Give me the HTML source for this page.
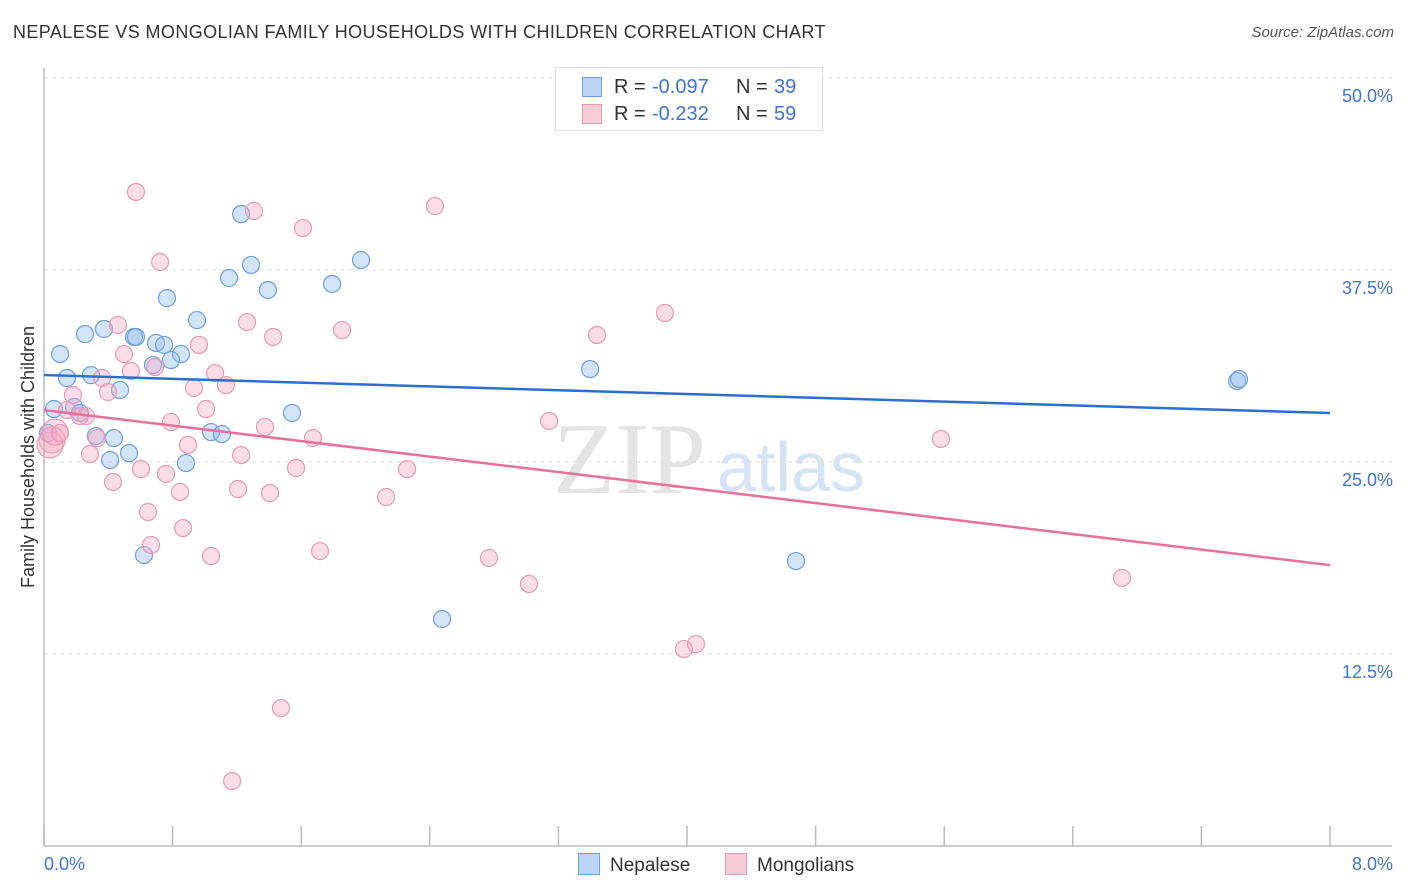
<!DOCTYPE html>
<html><head><meta charset="utf-8"><style>
body{margin:0;background:#fff;font-family:"Liberation Sans",sans-serif;}
#wrap{position:relative;width:1406px;height:892px;overflow:hidden;}
.t{position:absolute;white-space:nowrap;}
</style></head><body>
<div id="wrap">
<div class="t" style="left:13px;top:22px;font-size:18px;color:#333;letter-spacing:0.4px;">NEPALESE VS MONGOLIAN FAMILY HOUSEHOLDS WITH CHILDREN CORRELATION CHART</div>
<div class="t" style="right:12px;top:24px;font-size:15px;color:#555;font-style:italic;">Source: ZipAtlas.com</div>
<svg id="chart" width="1406" height="892" style="position:absolute;left:0;top:0"></svg>
</div>
<script>
const xTicks=[0,0.8,1.6,2.4,3.2,4.0,4.8,5.6,6.4,7.2,8.0];
const yTicks=[12.5,25,37.5,50];
const yTickLabels=["12.5%","25.0%","37.5%","50.0%"];
const xEndLabels=["0.0%","8.0%"];
const nepX=[1.226,1.288,1.151,1.393,1.792,1.972,0.765,0.952,0.255,0.373,0.560,0.572,0.697,0.747,0.852,0.790,0.678,0.100,0.143,0.292,0.473,0.062,0.187,0.224,0.025,0.323,0.435,0.529,0.411,0.883,1.039,1.107,1.543,3.397,7.422,7.434,4.678,2.476,0.622];
const nepY=[41.14,37.83,36.98,36.20,36.59,38.15,35.67,34.24,33.33,33.66,33.14,33.14,32.75,32.62,32.03,31.64,31.31,32.03,30.47,30.66,29.69,28.45,28.58,28.19,26.89,26.69,26.56,25.58,25.13,24.93,26.95,26.82,28.19,31.05,30.27,30.40,18.55,14.78,18.94];
const monX=[0.572,1.306,1.611,2.432,0.722,3.863,1.854,3.440,0.460,1.263,1.425,0.964,0.498,0.691,0.541,1.064,0.361,1.132,0.933,0.398,0.180,0.143,0.261,1.008,0.790,3.142,1.375,1.673,0.330,0.896,5.580,0.286,1.226,1.568,2.258,0.603,0.759,0.429,0.846,1.207,1.406,2.128,0.647,0.865,0.666,1.717,1.039,2.768,3.017,6.706,4.056,3.981,1.474,1.170,0.050,0.037,0.068,0.224,0.100];
const monY=[42.58,41.34,40.23,41.66,38.02,34.70,33.59,33.27,33.92,34.11,33.14,32.62,32.03,31.18,30.92,30.79,30.47,30.01,29.82,29.56,29.36,28.38,27.99,28.45,27.60,27.67,27.28,26.56,26.56,26.11,26.50,25.52,25.45,24.61,24.54,24.54,24.22,23.70,23.05,23.24,22.98,22.72,21.74,20.70,19.60,19.20,18.88,18.75,17.06,17.45,13.15,12.82,8.98,4.23,26.43,26.11,26.95,27.99,26.89];
const monBig=[54,55,56];
const nepLine=[30.66,28.19];
const monLine=[28.38,18.29];

const svg=document.getElementById('chart');
const NS='http://www.w3.org/2000/svg';
const X0=44,X1=1330,Y0=846,PXPER=192/12.5;
function sx(v){return X0+(v/8)*(X1-X0);}
function sy(v){return Y0-v*PXPER;}
function mk(tag,attrs,parent){const e=document.createElementNS(NS,tag);for(const k in attrs)e.setAttribute(k,attrs[k]);(parent||svg).appendChild(e);return e;}

let wm=mk('text',{x:553,y:493,'font-size':102,'font-family':'Liberation Serif,serif',fill:'#e4e4e4'});


wm.textContent='ZIP';
let wm2=mk('text',{x:717,y:491,'font-size':70,'font-family':'Liberation Sans,sans-serif',fill:'#d5e3f5'});


wm2.textContent='atlas';

yTicks.forEach((v,i)=>{
  const g=mk('line',{x1:X0,x2:1392,y1:sy(v),y2:sy(v),stroke:'#ddd','stroke-dasharray':'4,4','stroke-width':1});
  
  
  const t=mk('text',{x:1393,y:sy(v)+24,'text-anchor':'end','font-size':18,fill:'#3f74d6','font-family':'Liberation Sans,sans-serif'});
  
  
  t.textContent=yTickLabels[i];
});
let ax=mk('line',{x1:X0,x2:X0,y1:68,y2:Y0,stroke:'#bbb','stroke-width':1.5});


let bx=mk('line',{x1:X0,x2:1392,y1:Y0,y2:Y0,stroke:'#bbb','stroke-width':1.5});


xTicks.forEach(v=>{
  const l=mk('line',{x1:sx(v),x2:sx(v),y1:826,y2:Y0,stroke:'#bbb','stroke-width':1.5});
  
  
});
[[0,'start',44],[8,'end',1393]].forEach((a,i)=>{
  const t=mk('text',{x:a[2],y:870,'text-anchor':a[1],'font-size':18,fill:'#3f74d6','font-family':'Liberation Sans,sans-serif'});
  
  
  t.textContent=xEndLabels[i];
});
let yt=mk('text',{x:0,y:0,transform:'translate(34,457) rotate(-90)','text-anchor':'middle','font-size':18,fill:'#333','font-family':'Liberation Sans,sans-serif'});


yt.textContent='Family Households with Children';

nepX.forEach((x,i)=>{
  const c=mk('circle',{cx:sx(x),cy:sy(nepY[i]),r:8.5,fill:'rgba(150,190,240,0.42)',stroke:'#6c9fe0','stroke-width':1.2});
  
  
});
monX.forEach((x,i)=>{
  const big=monBig.includes(i);
  const c=mk('circle',{cx:sx(x),cy:sy(monY[i]),r:big?13:8.5,fill:'rgba(245,170,195,0.4)',stroke:'#e899b4','stroke-width':1.2});
  
  
});
let nl=mk('line',{x1:sx(0),y1:sy(nepLine[0]),x2:sx(8),y2:sy(nepLine[1]),stroke:'#2a6fd6','stroke-width':2.5});


let ml=mk('line',{x1:sx(0),y1:sy(monLine[0]),x2:sx(8),y2:sy(monLine[1]),stroke:'#e8709a','stroke-width':2.5});


</script>
<div class="t" style="left:555px;top:67px;width:266px;height:62px;border:1px solid #ddd;background:#fff;font-size:20px;">
  <div style="position:absolute;left:26px;top:8px;">
    <span style="position:absolute;left:0;top:1px;width:18px;height:18px;background:#bcd4f5;border:1px solid #6c9fe0;"></span>
    <span style="position:absolute;left:32px;color:#333;">R =</span>
    <span style="position:absolute;left:70px;color:#3f74d6;">-0.097</span>
    <span style="position:absolute;left:154px;color:#333;">N =</span>
    <span style="position:absolute;left:192px;color:#3f74d6;">39</span>
  </div>
  <div style="position:absolute;left:26px;top:35px;">
    <span style="position:absolute;left:0;top:1px;width:18px;height:18px;background:#f8cbd9;border:1px solid #e899b4;"></span>
    <span style="position:absolute;left:32px;color:#333;">R =</span>
    <span style="position:absolute;left:70px;color:#3f74d6;">-0.232</span>
    <span style="position:absolute;left:154px;color:#333;">N =</span>
    <span style="position:absolute;left:192px;color:#3f74d6;">59</span>
  </div>
</div>
<div class="t" style="left:578px;top:853px;font-size:19px;color:#333;">
  <span style="display:inline-block;width:20px;height:20px;background:#bcd4f5;border:1px solid #6c9fe0;vertical-align:-4px;margin-right:10px;"></span>Nepalese</div>
<div class="t" style="left:725px;top:853px;font-size:19px;color:#333;">
  <span style="display:inline-block;width:20px;height:20px;background:#f8cbd9;border:1px solid #e899b4;vertical-align:-4px;margin-right:10px;"></span>Mongolians</div>
</body></html>
